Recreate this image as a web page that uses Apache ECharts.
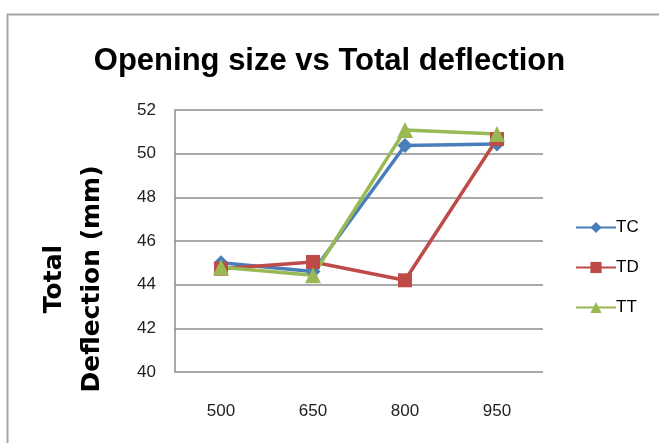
<!DOCTYPE html>
<html><head><meta charset="utf-8">
<script src="https://cdn.jsdelivr.net/npm/echarts@6/dist/echarts.min.js"></script>
<style>html,body{margin:0;padding:0;background:#fff}#c{width:659px;height:443px}</style>
</head><body><div id="c"></div>
<script>
const categories = ['500', '650', '800', '950'];
const tcValues = [45.0, 44.6, 50.37, 50.44];
const tdValues = [44.73, 45.04, 44.2, 50.67];
const ttValues = [44.8, 44.43, 51.08, 50.9];
const seriesNames = ['TC', 'TD', 'TT'];

const chart = echarts.init(document.getElementById('c'), null, {renderer: 'canvas'});
const narrow = '"Liberation Sans Narrow", "Liberation Sans", sans-serif';
function mk(name, data, color, symbol, size) {
  return {
    name: name, type: 'line', data: data,
    symbol: symbol, symbolSize: size,
    lineStyle: {color: color, width: 3.5},
    itemStyle: {color: color},
    emphasis: {disabled: true}
  };
}
chart.setOption({
  animation: false,
  graphic: [{
    type: 'rect', left: 5, top: 12,
    shape: {width: 700, height: 500},
    style: {fill: 'none', stroke: '#a6a6a6', lineWidth: 2}
  }],
  title: {
    text: 'Opening size vs Total deflection',
    left: 'center', top: 41,
    textStyle: {fontFamily: narrow, fontWeight: 'bold', fontSize: 31, color: '#000'}
  },
  legend: {
    orient: 'vertical', left: 570, top: 214, itemGap: 23,
    itemWidth: 40, itemHeight: 14,
    textStyle: {fontFamily: narrow, fontSize: 17, color: '#000', padding: [0,0,0,-5]},
    data: seriesNames
  },
  grid: {left: 175, right: 116, top: 110, bottom: 71},
  xAxis: {
    type: 'category', data: categories, boundaryGap: true,
    axisLine: {show: false}, axisTick: {show: false},
    axisLabel: {fontFamily: narrow, fontSize: 17, color: '#222', margin: 31}
  },
  yAxis: {
    type: 'value', min: 40, max: 52, interval: 2,
    name: 'Total\nDeflection (mm)', nameLocation: 'middle', nameGap: 64, nameRotate: 90,
    nameTextStyle: {fontFamily: '"DejaVu Sans", sans-serif', fontWeight: 'bold', fontSize: 25, color: '#000', lineHeight: 38, padding: [0, 76, 0, 0]},
    axisLine: {show: true, lineStyle: {color: '#8c8c8c', width: 1.5}},
    axisTick: {show: false},
    splitLine: {lineStyle: {color: '#8c8c8c', width: 1.5}},
    axisLabel: {fontFamily: narrow, fontSize: 17, color: '#222', margin: 19}
  },
  series: [
    mk('TC', tcValues, '#4a7ebb', 'diamond', 15),
    mk('TD', tdValues, '#be4b48', 'rect', 14),
    mk('TT', ttValues, '#98b954', 'triangle', 16)
  ]
});
</script></body></html>
